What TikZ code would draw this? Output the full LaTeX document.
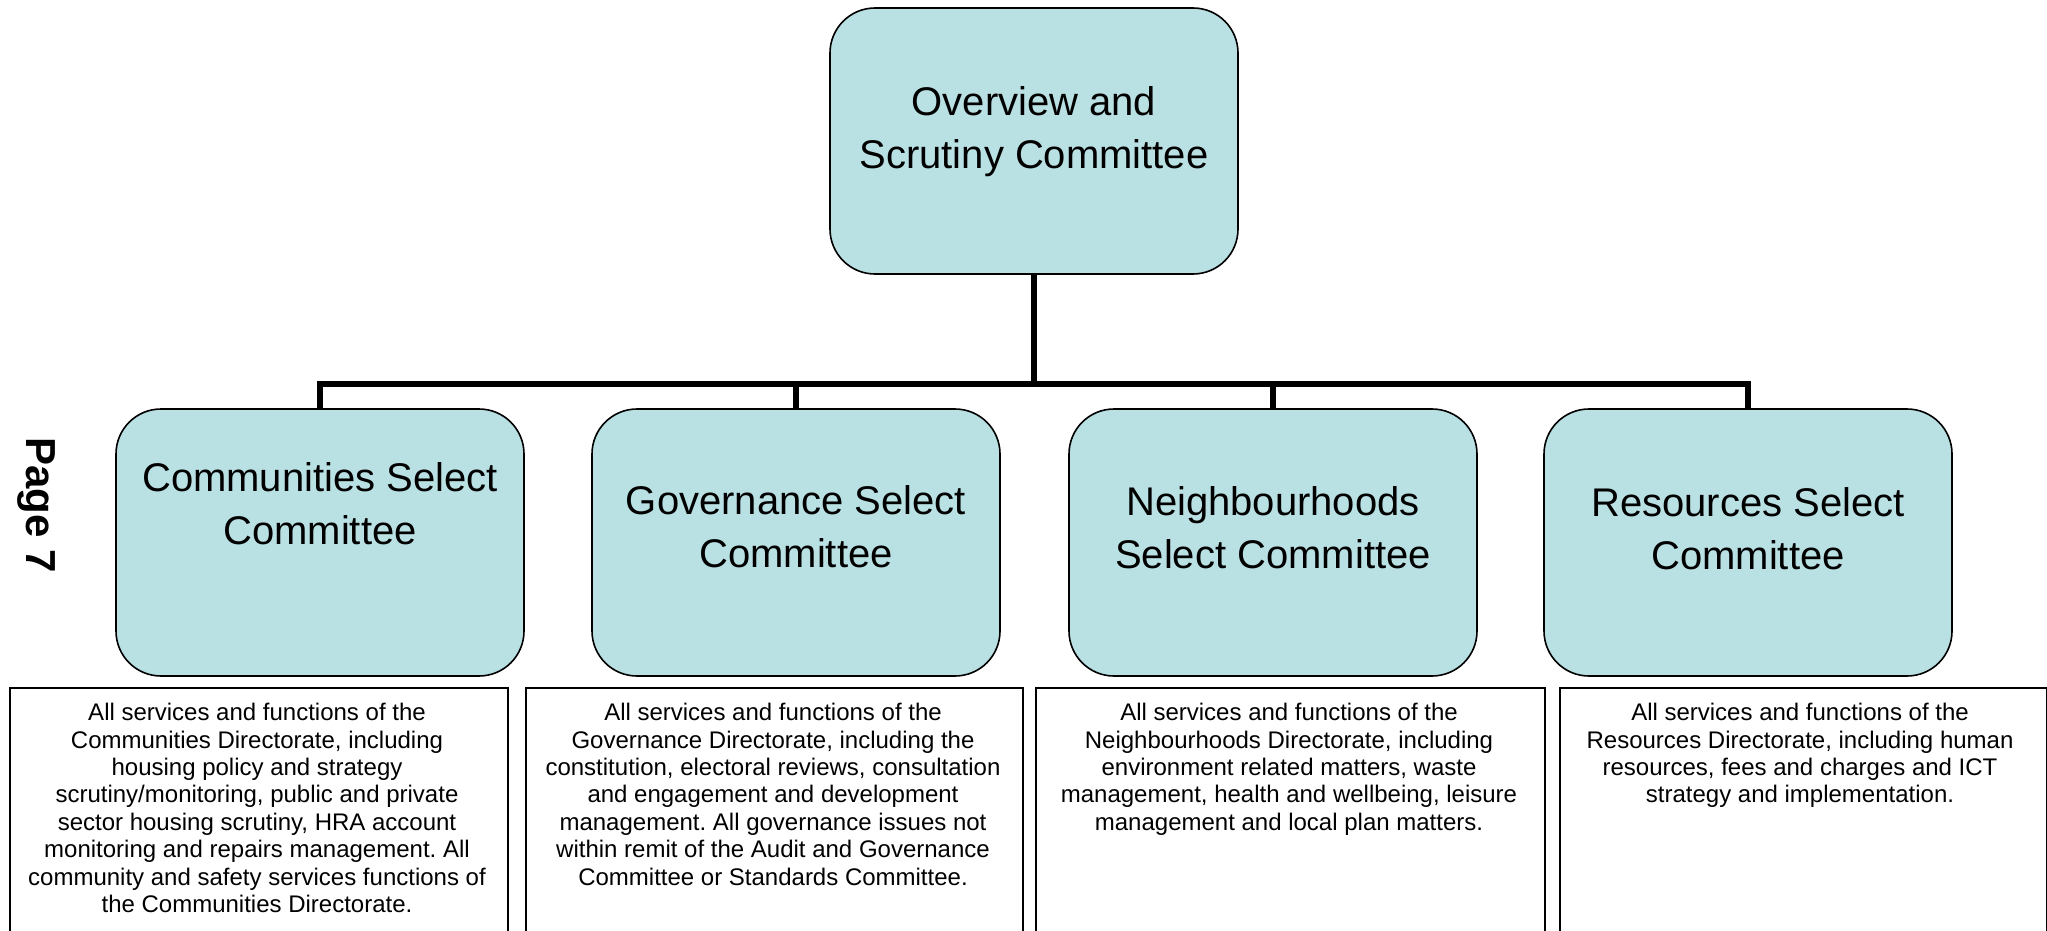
\documentclass[tikz,border=0pt]{standalone}
\usepackage{fontspec}
\setmainfont{Liberation Sans}
\definecolor{boxfill}{HTML}{B9E0E3}
\begin{document}
\frenchspacing
\begin{tikzpicture}[x=1pt,y=-1pt,
  committee/.style={draw=black, line width=1.6pt, fill=boxfill, rounded corners=45pt,
    minimum width=408pt, minimum height=266pt, inner sep=0pt},
  bigtext/.style={align=center, inner sep=0pt, font=\fontsize{40}{53}\selectfont},
  descbox/.style={draw=black, line width=1.6pt, anchor=north west, inner sep=0pt},
  desctext/.style={align=center, anchor=north, inner sep=0pt, font=\fontsize{24}{27.4}\selectfont},
  link/.style={line width=6pt, draw=black}]
\clip (0,0) rectangle (2047,931);
\useasboundingbox (0,0) rectangle (2047,931);

% top committee
\node[committee] (top) at (1034,141) {};
\node[bigtext] (toptext) at (1034,132) {Overview and\\Scrutiny Committee};

% select committees
\node[committee, minimum height=267pt] (c1) at (320,542.5) {};
\node[committee, minimum height=267pt] (c2) at (796,542.5) {};
\node[committee, minimum height=267pt] (c3) at (1273,542.5) {};
\node[committee, minimum height=267pt] (c4) at (1748,542.5) {};
\node[bigtext] (t1) at (320,504) {Communities Select\\Committee};
\node[bigtext] (t2) at (796,527) {Governance Select\\Committee};
\node[bigtext] (t3) at (1273,528) {Neighbourhoods\\Select Committee};
\node[bigtext] (t4) at (1748,529) {Resources Select\\Committee};

% connectors
\coordinate (bus) at (1034,384);
\draw[link] (top.south) -- (bus);
\draw[link] (c1.north) |- (bus) -| (c4.north);
\draw[link] (c2.north) -- (c2.north |- bus);
\draw[link] (c3.north) -- (c3.north |- bus);

% description boxes
\node[descbox, minimum width=498pt, minimum height=260pt] (d1) at (9,687) {};
\node[descbox, minimum width=497pt, minimum height=260pt] (d2) at (525,687) {};
\node[descbox, minimum width=509pt, minimum height=260pt] (d3) at (1035,687) {};
\node[descbox, minimum width=487pt, minimum height=260pt] (d4) at (1559,687) {};

\node[desctext] (e1) at (257,703) {All services and functions of the\\Communities Directorate, including\\housing policy and strategy\\scrutiny/monitoring, public and private\\sector housing scrutiny, HRA account\\monitoring and repairs management. All\\community and safety services functions of\\the Communities Directorate.};
\node[desctext] (e2) at (773,703) {All services and functions of the\\Governance Directorate, including the\\constitution, electoral reviews, consultation\\and engagement and development\\management. All governance issues not\\within remit of the Audit and Governance\\Committee or Standards Committee.};
\node[desctext] (e3) at (1289,703) {All services and functions of the\\Neighbourhoods Directorate, including\\environment related matters, waste\\management, health and wellbeing, leisure\\management and local plan matters.};
\node[desctext] (e4) at (1800,703) {All services and functions of the\\Resources Directorate, including human\\resources, fees and charges and ICT\\strategy and implementation.};

% page marker
\node[rotate=-90, inner sep=0pt, font=\bfseries\fontsize{42}{50}\selectfont] (page) at (36,505) {Page 7};
\end{tikzpicture}
\end{document}
